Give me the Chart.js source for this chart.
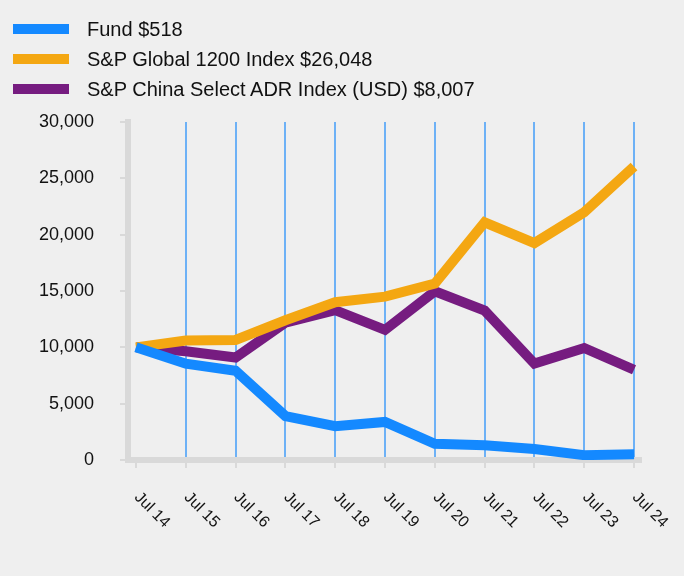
<!DOCTYPE html>
<html>
<head>
<meta charset="utf-8">
<script src="https://cdn.jsdelivr.net/npm/chart.js@4.4.1/dist/chart.umd.min.js"></script>
<style>
  body { margin: 0; background: #efefef; font-family: "Liberation Sans", Arial, sans-serif; }
  #wrap { position: relative; width: 684px; height: 576px; }
  #legend { position: absolute; left: 13px; top: 14px; }
  .item { display: flex; align-items: center; height: 30px; font-size: 20px; color: #111; white-space: nowrap; }
  .swatch { width: 56px; height: 10px; margin-right: 18px; }
</style>
</head>
<body>
<div id="wrap">
  <canvas id="growthChart" width="684" height="576"></canvas>
  <div id="legend"></div>
</div>
<script>
const tickLabels = ['Jul 14', 'Jul 15', 'Jul 16', 'Jul 17', 'Jul 18', 'Jul 19', 'Jul 20', 'Jul 21', 'Jul 22', 'Jul 23', 'Jul 24'];
const fund = [10000, 8550, 7920, 3900, 3000, 3380, 1440, 1310, 980, 430, 518];
const global1200 = [10000, 10600, 10650, 12400, 14000, 14500, 15650, 21100, 19250, 22000, 26048];
const chinaAdr = [10000, 9650, 9100, 12200, 13300, 11550, 14980, 13260, 8560, 9940, 8007];
const seriesNames = ['Fund $518', 'S&P Global 1200 Index $26,048', 'S&P China Select ADR Index (USD) $8,007'];
const seriesColors = ['#1489ff', '#f4a712', '#761c80'];

const toPoints = arr => arr.map((v, i) => ({x: i, y: v}));

const slantedLabels = {
    id: 'slantedLabels',
    afterDraw(chart) {
        const ctx = chart.ctx;
        const xs = chart.scales.x;
        ctx.save();
        ctx.font = '16px "Liberation Sans", Arial, sans-serif';
        ctx.fillStyle = '#111';
        ctx.textAlign = 'center';
        ctx.textBaseline = 'middle';
        tickLabels.forEach((t, i) => {
            ctx.save();
            ctx.translate(xs.getPixelForValue(i) + 16, xs.top + 50);
            ctx.rotate(Math.PI / 4);
            ctx.fillText(t, 0, 0);
            ctx.restore();
        });
        ctx.restore();
    }
};

const data = {
    datasets: [fund, global1200, chinaAdr].map((arr, i) => ({
        label: seriesNames[i],
        data: toPoints(arr),
        borderColor: seriesColors[i],
        backgroundColor: seriesColors[i],
        borderWidth: 10,
        pointRadius: 0,
        tension: 0
    }))
};

const config = {
    type: 'line',
    data: data,
    options: {
        responsive: false,
        animation: false,
        devicePixelRatio: 1,
        layout: { padding: { top: 122, left: 0, right: 43, bottom: 0 } },
        plugins: { legend: { display: false }, tooltip: { enabled: false } },
        scales: {
            x: {
                type: 'linear',
                min: -0.16,
                max: 10.14,
                afterBuildTicks: s => { s.ticks = tickLabels.map((t, i) => ({value: i})); },
                afterFit: s => { s.height = 116; },
                ticks: { display: false },
                border: { color: '#d9d9d9', width: 6 },
                grid: {
                    color: c => c.index === 0 ? 'rgba(0,0,0,0)' : '#6db1f6',
                    lineWidth: 2,
                    tickColor: '#d9d9d9',
                    tickLength: 8
                }
            },
            y: {
                min: 0,
                max: 30000,
                afterFit: s => { s.width = 128; },
                ticks: {
                    stepSize: 5000,
                    padding: 26,
                    color: '#111',
                    font: { family: '"Liberation Sans", Arial, sans-serif', size: 18 },
                    callback: v => v.toLocaleString('en-US')
                },
                border: { color: '#d9d9d9', width: 6 },
                grid: { drawOnChartArea: false, tickColor: '#d9d9d9', tickLength: 8, lineWidth: 2 }
            }
        }
    },
    plugins: [slantedLabels]
};

const growthChart = new Chart(document.getElementById('growthChart'), config);

const legend = document.getElementById('legend');
seriesNames.forEach((name, i) => {
    const row = document.createElement('div');
    row.className = 'item';
    row.innerHTML = '<span class="swatch" style="background:' + seriesColors[i] + '"></span>';
    row.appendChild(document.createTextNode(name));
    legend.appendChild(row);
});
</script>
</body>
</html>
